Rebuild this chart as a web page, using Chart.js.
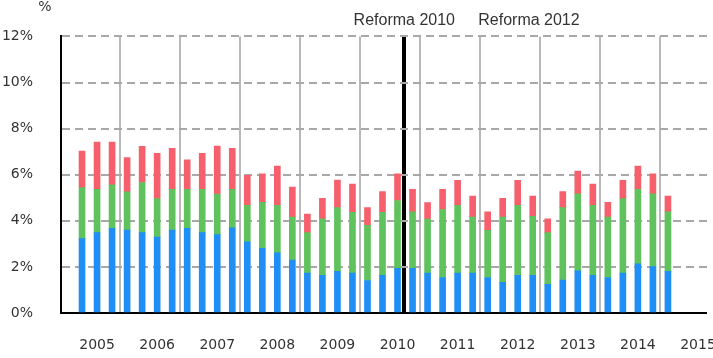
<!DOCTYPE html>
<html>
<head>
<meta charset="utf-8">
<script src="https://cdn.jsdelivr.net/npm/chart.js@4/dist/chart.umd.min.js"></script>
<style>
  html, body { margin: 0; padding: 0; background: #fff; }
  #wrap { width: 713px; height: 358px; position: relative; }
</style>
</head>
<body>
<div id="wrap"><canvas id="chart"></canvas></div>
<script>
// ---- data ----
const quarters = [
  "2005T2", "2005T3", "2005T4", "2006T1", "2006T2", "2006T3", "2006T4", "2007T1", "2007T2", "2007T3",
  "2007T4", "2008T1", "2008T2", "2008T3", "2008T4", "2009T1", "2009T2", "2009T3", "2009T4", "2010T1",
  "2010T2", "2010T3", "2010T4", "2011T1", "2011T2", "2011T3", "2011T4", "2012T1", "2012T2", "2012T3",
  "2012T4", "2013T1", "2013T2", "2013T3", "2013T4", "2014T1", "2014T2", "2014T3", "2014T4", "2015T1"
];
const blueSeries = [3.23, 3.49, 3.67, 3.60, 3.49, 3.29, 3.60, 3.67, 3.49, 3.40,
  3.69, 3.09, 2.81, 2.61, 2.30, 1.73, 1.63, 1.81, 1.73, 1.41,
  1.63, 1.94, 1.94, 1.73, 1.54, 1.73, 1.73, 1.54, 1.33, 1.63,
  1.63, 1.24, 1.43, 1.83, 1.63, 1.54, 1.73, 2.13, 2.01, 1.81];
const greenSeries = [2.21, 1.87, 1.89, 1.66, 2.17, 1.67, 1.77, 1.70, 1.88, 1.76,
  1.68, 1.58, 1.99, 2.06, 1.86, 1.76, 2.46, 2.76, 2.64, 2.39,
  2.74, 2.94, 2.45, 2.34, 2.95, 2.94, 2.43, 2.05, 2.83, 3.04,
  2.56, 2.25, 3.14, 3.34, 3.04, 2.62, 3.23, 3.23, 3.16, 2.58];
const redSeries = [1.59, 2.06, 1.86, 1.48, 1.57, 1.97, 1.77, 1.27, 1.56, 2.08,
  1.77, 1.30, 1.24, 1.70, 1.30, 0.80, 0.88, 1.20, 1.22, 0.77,
  0.90, 1.16, 0.98, 0.72, 0.88, 1.09, 0.91, 0.80, 0.81, 1.09,
  0.88, 0.60, 0.70, 0.99, 0.92, 0.64, 0.80, 1.01, 0.87, 0.68];
const yearLabels = ["2005", "2006", "2007", "2008", "2009", "2010", "2011", "2012", "2013", "2014", "2015"];
const reformLabels = ["Reforma 2010", "Reforma 2012"];

// positions on the quarter axis (bar index units)
const yearLabelPos = yearLabels.map((_, k) => 1 + 4 * k);
const yearLinePos = yearLabels.slice(0, 10).map((_, k) => 2.5 + 4 * k);
const reformPos = [21.45, 29.75];

const toPoints = arr => arr.map((v, i) => ({ x: i, y: v }));

function barSet(label, values, color) {
  return {
    label,
    data: toPoints(values),
    backgroundColor: color,
    borderWidth: 0,
    barThickness: 6,
  };
}

// ---- overlay text: unit + reform notes ----
const notesPlugin = {
  id: "notes",
  afterDraw(chart) {
    const { ctx, scales: { x } } = chart;
    ctx.save();
    ctx.fillStyle = "#333";
    ctx.textAlign = "center";
    ctx.textBaseline = "middle";
    ctx.font = '16px "Liberation Sans", Arial, sans-serif';
    reformLabels.forEach((t, i) => ctx.fillText(t, x.getPixelForValue(reformPos[i]), 21));
    ctx.font = '14px "DejaVu Sans", sans-serif';
    ctx.fillText("%", 45, 7);
    ctx.restore();
  }
};

const tickVal = c => (c.tick ? c.tick.value : null);
const isYearLine = c => yearLinePos.includes(tickVal(c));
const isReform = c => tickVal(c) === reformPos[0];

new Chart(document.getElementById("chart"), {
  type: "bar",
  data: {
    datasets: [
      barSet("Azul", blueSeries, "#1f8ef5"),
      barSet("Verde", greenSeries, "#5fc25c"),
      barSet("Rojo", redSeries, "#f6606c"),
    ]
  },
  options: {
    responsive: true,
    maintainAspectRatio: false,
    animation: false,
    layout: { padding: { top: 33, right: 6, left: 0, bottom: 0 } },
    plugins: { legend: { display: false }, tooltip: { enabled: false } },
    scales: {
      x: {
        type: "linear",
        stacked: true,
        offset: false,
        min: -1.4,
        max: 41.6,
        afterBuildTicks: scale => {
          scale.ticks = [
            ...yearLabelPos.map(v => ({ value: v })),
            { value: reformPos[0] },
            ...yearLinePos.map(v => ({ value: v })),
          ];
        },
        afterFit: scale => { scale.height = 45; },
        ticks: {
          autoSkip: false,
          maxRotation: 0,
          padding: 24,
          color: "#333",
          font: { family: '"DejaVu Sans", sans-serif', size: 14 },
          callback: v => {
            const k = yearLabelPos.indexOf(v);
            return k >= 0 ? yearLabels[k] : "";
          }
        },
        grid: {
          offset: false,
          drawTicks: false,
          color: c => isReform(c) ? "#000" : (isYearLine(c) ? "#b8b8b8" : "rgba(0,0,0,0)"),
          lineWidth: c => isReform(c) ? 4 : (isYearLine(c) ? 2 : 0),
        },
        border: { display: true, color: "#000", width: 2 },
      },
      y: {
        stacked: true,
        min: 0,
        max: 12,
        afterFit: scale => { scale.width = 61; },
        ticks: {
          stepSize: 2,
          padding: 28,
          color: "#333",
          font: { family: '"DejaVu Sans", sans-serif', size: 14 },
          callback: v => v + "%"
        },
        grid: { drawTicks: false, color: "#a8a8a8", lineWidth: 2 },
        border: { display: true, color: "#000", width: 2, dash: [8, 5] },
      }
    }
  },
  plugins: [notesPlugin]
});
</script>
</body>
</html>
